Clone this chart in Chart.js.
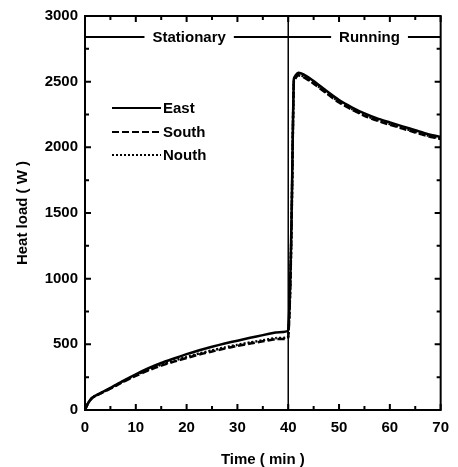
<!DOCTYPE html>
<html>
<head>
<meta charset="utf-8">
<script src="https://cdn.jsdelivr.net/npm/chart.js@4/dist/chart.umd.min.js"></script>
<style>
  html, body { margin: 0; padding: 0; background: #fff; }
  #wrap { width: 458px; height: 467px; }
</style>
</head>
<body>
<div id="wrap"><canvas id="heat_load"></canvas></div>
<script>
// time in minutes, heat load in W
const times = [0, 0.5, 1, 1.5, 2, 3, 4, 5, 7.5, 10, 12.5, 15, 17.5, 20, 22.5, 25, 27.5, 30, 32.5, 35, 37.5, 40,
  41.1, 41.5, 42, 43, 45, 47.5, 50, 52.5, 55, 57.5, 60, 62.5, 65, 67.5, 70];
const eastLoad = [0, 45, 75, 95, 108, 128, 148, 168, 222, 272, 318, 358, 392, 425, 455, 482, 506, 528, 550, 570, 590, 608,
  2520, 2550, 2568, 2555, 2505, 2430, 2360, 2305, 2258, 2220, 2190, 2160, 2130, 2100, 2080];
const southLoad = [0, 45, 75, 95, 106, 125, 144, 162, 214, 260, 302, 338, 368, 396, 423, 446, 468, 488, 506, 523, 539, 553,
  2500, 2530, 2548, 2535, 2485, 2412, 2342, 2288, 2240, 2203, 2172, 2143, 2113, 2085, 2063];
const nouthLoad = [0, 45, 75, 95, 107, 126, 146, 165, 218, 266, 308, 345, 376, 404, 431, 454, 476, 496, 514, 531, 547, 561,
  2505, 2535, 2552, 2540, 2490, 2418, 2348, 2293, 2246, 2208, 2178, 2148, 2118, 2090, 2068];

const seriesNames = ['East', 'South', 'Nouth'];
const phaseNames = ['Stationary', 'Running'];
const phaseCenters = [20.5, 56];
const switchTime = 40;
const phaseLineLoad = 2840;

const dashes = [[], [7, 3], [2, 2]];
const toPoints = arr => arr.map((v, i) => ({ x: times[i], y: v }));

const fontFamily = '"Liberation Sans", Arial, sans-serif';
const boldFont = size => 'bold ' + size + 'px ' + fontFamily;

// frame, inward ticks, phase divider, header and in-plot legend
const decorPlugin = {
  id: 'decor',
  afterDatasetsDraw(chart) {
    const ctx = chart.ctx;
    const xs = chart.scales.x, ys = chart.scales.y;
    const a = chart.chartArea;
    ctx.save();
    ctx.strokeStyle = '#000';
    ctx.fillStyle = '#000';

    // ticks on all four sides
    ctx.lineWidth = 2;
    for (let t = 0; t <= 70; t += 5) {
      const px = xs.getPixelForValue(t);
      const len = t % 10 === 0 ? 6 : 4;
      ctx.beginPath();
      ctx.moveTo(px, a.bottom); ctx.lineTo(px, a.bottom - len);
      ctx.moveTo(px, a.top); ctx.lineTo(px, a.top + len);
      ctx.stroke();
    }
    for (let v = 0; v <= 3000; v += 250) {
      const py = ys.getPixelForValue(v);
      const len = v % 500 === 0 ? 6 : 4;
      ctx.beginPath();
      ctx.moveTo(a.left, py); ctx.lineTo(a.left + len, py);
      ctx.moveTo(a.right, py); ctx.lineTo(a.right - len, py);
      ctx.stroke();
    }

    // divider between phases
    const sx = xs.getPixelForValue(switchTime);
    ctx.lineWidth = 1.5;
    ctx.beginPath();
    ctx.moveTo(sx, a.bottom); ctx.lineTo(sx, a.top);
    ctx.stroke();

    // phase header line with gaps for the labels
    const hy = ys.getPixelForValue(phaseLineLoad);
    ctx.font = boldFont(15);
    ctx.textAlign = 'center';
    ctx.textBaseline = 'middle';
    const gaps = phaseNames.map((name, i) => {
      const cx = xs.getPixelForValue(phaseCenters[i]);
      const w = ctx.measureText(name).width;
      ctx.fillText(name, cx, hy + 1);
      return [cx - w / 2 - 8, cx + w / 2 + 8];
    });
    ctx.lineWidth = 2;
    ctx.beginPath();
    ctx.moveTo(a.left, hy); ctx.lineTo(gaps[0][0], hy);
    ctx.moveTo(gaps[0][1], hy); ctx.lineTo(gaps[1][0], hy);
    ctx.moveTo(gaps[1][1], hy); ctx.lineTo(a.right, hy);
    ctx.stroke();

    // legend
    ctx.textAlign = 'left';
    const rows = [108, 132, 155];
    seriesNames.forEach((name, i) => {
      const y = rows[i];
      ctx.lineWidth = 2;
      ctx.setLineDash(dashes[i]);
      ctx.beginPath();
      ctx.moveTo(a.left + 27, y); ctx.lineTo(a.left + 76, y);
      ctx.stroke();
      ctx.setLineDash([]);
      ctx.fillText(name, a.left + 78, y + 1);
    });

    // frame
    ctx.lineWidth = 2;
    ctx.strokeRect(a.left, a.top, a.right - a.left, a.bottom - a.top);
    ctx.restore();
  }
};

const ctx = document.getElementById('heat_load').getContext('2d');
new Chart(ctx, {
  type: 'scatter',
  data: {
    datasets: [eastLoad, southLoad, nouthLoad].map((arr, i) => ({
      label: seriesNames[i],
      data: toPoints(arr),
      showLine: true,
      borderColor: '#000',
      backgroundColor: '#000',
      borderWidth: 2.5,
      borderDash: dashes[i],
      pointRadius: 0,
      tension: 0.2
    }))
  },
  options: {
    responsive: true,
    maintainAspectRatio: false,
    animation: false,
    layout: { padding: { top: 15, right: 13, left: 0, bottom: 0 } },
    plugins: {
      legend: { display: false },
      tooltip: { enabled: false }
    },
    scales: {
      x: {
        type: 'linear',
        min: 0,
        max: 70,
        afterFit: s => { s.height = 57; },
        grid: { display: false, drawTicks: false },
        border: { display: false },
        ticks: {
          stepSize: 10,
          color: '#000',
          padding: 9,
          font: { family: fontFamily, size: 15, weight: 'bold' }
        },
        title: {
          display: true,
          text: 'Time ( min )',
          color: '#000',
          padding: { top: 0, bottom: -2 },
          font: { family: fontFamily, size: 15, weight: 'bold' }
        }
      },
      y: {
        min: 0,
        max: 3000,
        afterFit: s => { s.width = 85; },
        grid: { display: false, drawTicks: false },
        border: { display: false },
        ticks: {
          stepSize: 500,
          color: '#000',
          padding: 7,
          callback: v => String(v),
          font: { family: fontFamily, size: 15, weight: 'bold' }
        },
        title: {
          display: true,
          text: 'Heat load ( W )',
          color: '#000',
          padding: { top: 14, bottom: 0 },
          font: { family: fontFamily, size: 15, weight: 'bold' }
        }
      }
    }
  },
  plugins: [decorPlugin]
});
</script>
</body>
</html>
